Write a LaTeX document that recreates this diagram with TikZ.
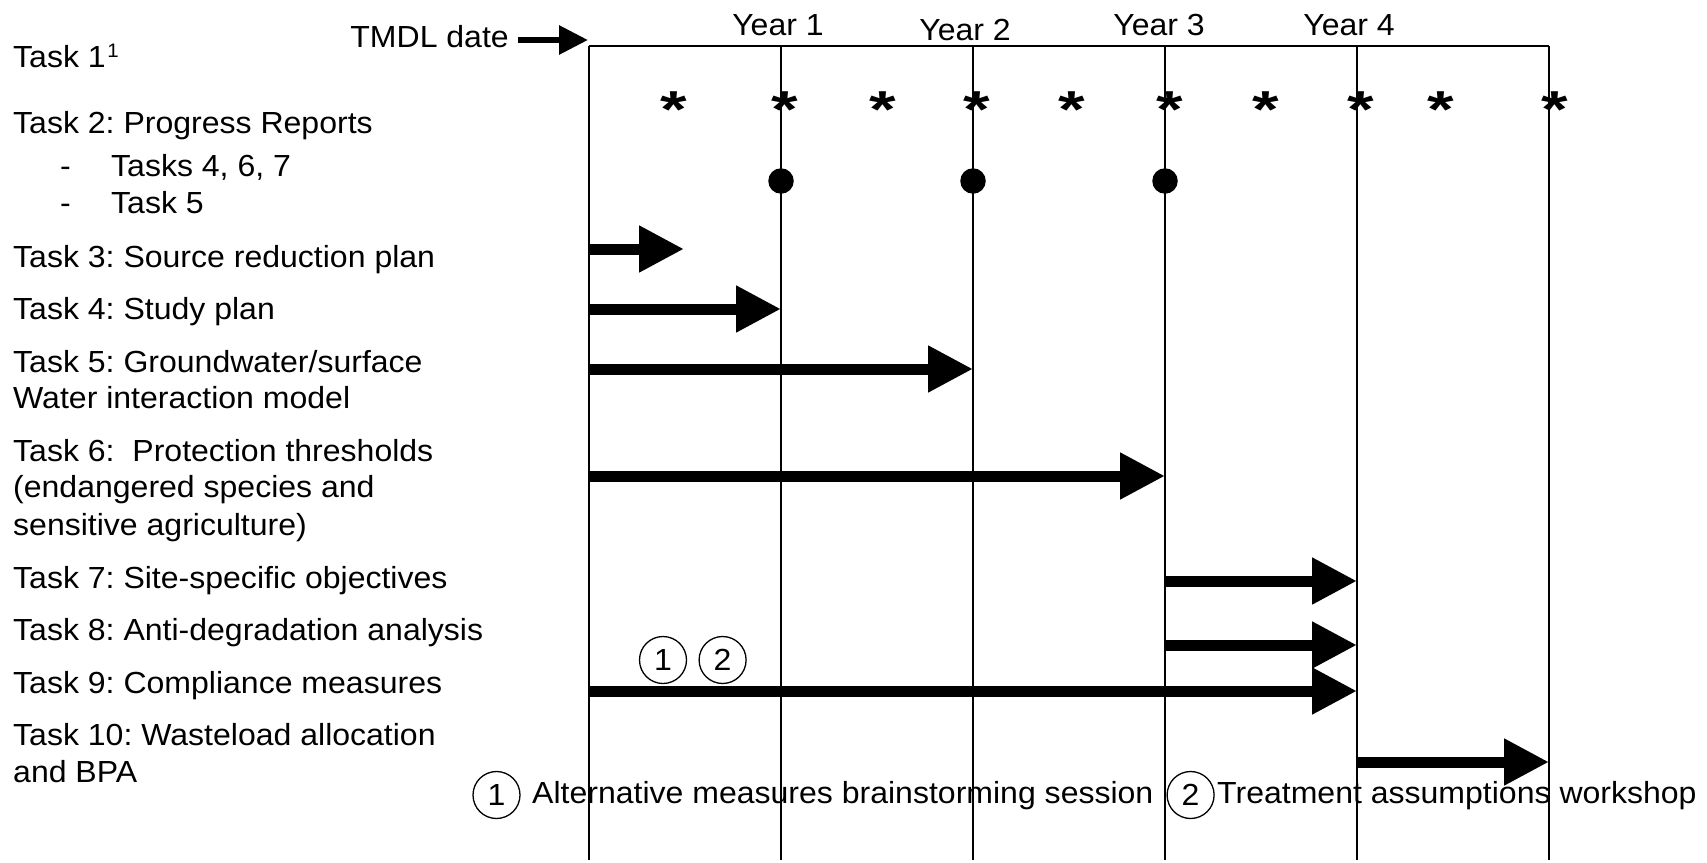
\documentclass[tikz,border=0pt]{standalone}
\usepackage{fontspec}
\usepackage{graphicx}
\setmainfont[FakeStretch=1.05]{Liberation Sans}
\usetikzlibrary{arrows.meta}
\frenchspacing
\begin{document}
\begin{tikzpicture}[x=1pt,y=-1pt,
  lbl/.style={anchor=base west, inner sep=0pt, font=\fontsize{30.5}{37}\selectfont},
  yr/.style={anchor=base, inner sep=0pt, font=\fontsize{30.5}{37}\selectfont},
  star/.style={anchor=base, inner sep=0pt, font=\fontsize{52}{52}\selectfont\bfseries},
  gridline/.style={line width=1.8pt},
  bar/.style={line width=11pt, -{Triangle[length=45pt,width=44pt]}},
  num/.style={circle, draw, line width=1.3pt, minimum size=47pt, inner sep=0pt, font=\fontsize{30.5}{37}\selectfont},
  dot/.style={circle, fill, minimum size=25.5pt, inner sep=0pt}]
\useasboundingbox (0,0) rectangle (1707,862);

% task labels
\node[lbl] (l1)  at (13,67)  {Task 1\kern1.5pt\raisebox{10pt}{\fontsize{19.5}{18}\selectfont 1}};
\node[lbl] (l2)  at (13,133) {Task 2: Progress Reports};
\node[lbl] (l2a) at (60,176) {-};
\node[lbl] (l2b) at (111,176) {Tasks 4, 6, 7};
\node[lbl] (l2c) at (60,213) {-};
\node[lbl] (l2d) at (111,213) {Task 5};
\node[lbl] (l3)  at (13,267) {Task 3: Source reduction plan};
\node[lbl] (l4)  at (13,319) {Task 4: Study plan};
\node[lbl] (l5)  at (13,372) {Task 5: Groundwater/surface};
\node[lbl] (l5b) at (13,408) {Water interaction model};
\node[lbl] (l6)  at (13,461) {Task 6:\ \ Protection thresholds};
\node[lbl] (l6b) at (13,497) {(endangered species and};
\node[lbl] (l6c) at (13,535) {sensitive agriculture)};
\node[lbl] (l7)  at (13,588) {Task 7: Site-specific objectives};
\node[lbl] (l8)  at (13,640) {Task 8: Anti-degradation analysis};
\node[lbl] (l9)  at (13,693) {Task 9: Compliance measures};
\node[lbl] (l10) at (13,745) {Task 10: Wasteload allocation};
\node[lbl] (l10b) at (13,782) {and BPA};

% time axis
\node[lbl, anchor=base east] (tmdl) at (509,47) {TMDL date};
\coordinate (tm1) at (518,40);
\coordinate (tm2) at (588,40);
\draw[line width=6pt, -{Triangle[length=29pt,width=28pt]}] (tm1) -- (tm2);

\node[yr] (y1) at (778,35)  {Year 1};
\node[yr] (y2) at (965,40)  {Year 2};
\node[yr] (y3) at (1159,35) {Year 3};
\node[yr] (y4) at (1349,35) {Year 4};

\foreach \i/\x in {0/589,1/781,2/973,3/1165,4/1357,5/1549}{
  \coordinate (v\i) at (\x,46);
  \coordinate (b\i) at (\x,860);
}
\draw[gridline] (v0) -- (v5);
\foreach \i in {0,...,5}{ \draw[gridline] (v\i) -- (b\i); }

% quarterly markers
\foreach \x [count=\k] in {674,785,882.5,977,1072,1170,1266,1361,1441,1555}{
  \node[star] (s\k) at (\x,127) {\scalebox{1.25}[1]{*}};
}

% progress report markers
\node[dot] (d1) at (781,181) {};
\node[dot] (d2) at (973,181) {};
\node[dot] (d3) at (1165,181) {};

% task bars
\coordinate (r3) at (0,249);
\coordinate (r4) at (0,309);
\coordinate (r5) at (0,369);
\coordinate (r6) at (0,476);
\coordinate (r7) at (0,581);
\coordinate (r8) at (0,645);
\coordinate (r9) at (0,691);
\coordinate (r10) at (0,762);
\coordinate (e3) at (684,249);
\draw[bar] (v0 |- r3) -- (e3);
\draw[bar] (v0 |- r4) -- (v1 |- r4);
\draw[bar] (v0 |- r5) -- (v2 |- r5);
\draw[bar] (v0 |- r6) -- (v3 |- r6);
\draw[bar] (v3 |- r7) -- (v4 |- r7);
\draw[bar] (v3 |- r8) -- (v4 |- r8);
\draw[bar] (v0 |- r9) -- (v4 |- r9);
\draw[bar] (v4 |- r10) -- (v5 |- r10);

% workshop markers
\node[num] (c1) at (663,660) {1};
\node[num] (c2) at (722.6,660) {2};

% legend
\node[num] (k1) at (496.5,795) {1};
\node[lbl] (k1t) at (532,803) {Alternative measures brainstorming session};
\node[num] (k2) at (1190.6,795) {2};
\node[lbl] (k2t) at (1217,803) {Treatment assumptions workshop};
\end{tikzpicture}
\end{document}
